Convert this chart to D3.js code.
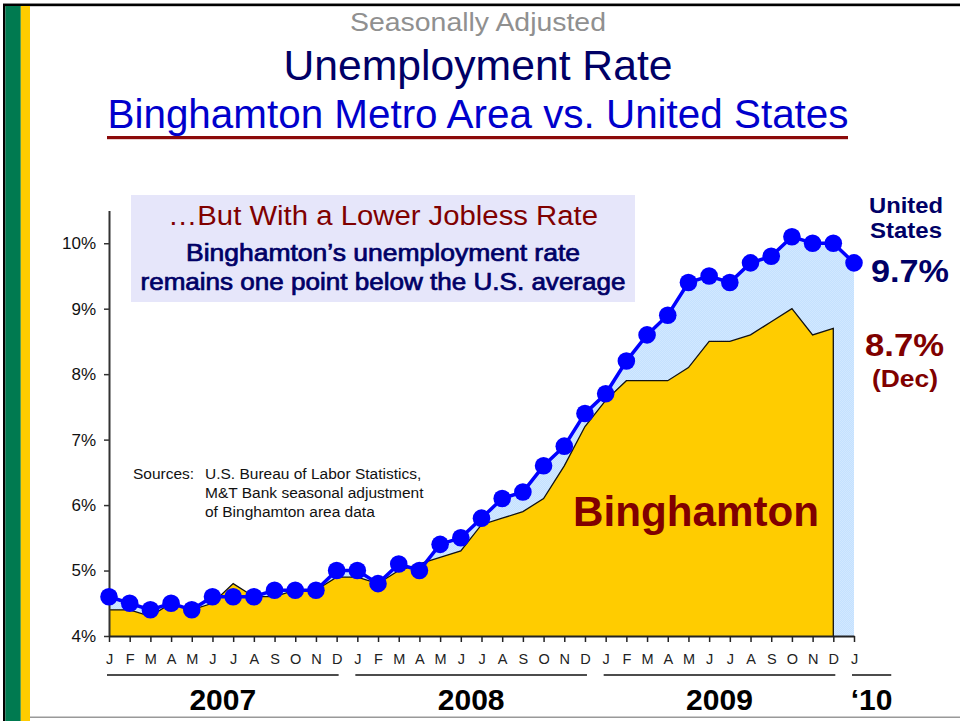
<!DOCTYPE html>
<html>
<head>
<meta charset="utf-8">
<script src="https://cdn.jsdelivr.net/npm/d3@7"></script>
<style>
  body { margin: 0; background: #fff; }
  svg { display: block; font-family: "Liberation Sans", Arial, sans-serif; }
</style>
</head>
<body>
<svg id="chart" width="960" height="721"></svg>
<script>
// monthly rates, Jan 2007 .. Jan 2010
var monthLetters = ['J','F','M','A','M','J','J','A','S','O','N','D'];
var monthLabels = monthLetters.concat(monthLetters, monthLetters, ['J']);

var usRate = [
    4.6, 4.5, 4.4, 4.5, 4.4, 4.6, 4.6, 4.6, 4.7, 4.7, 4.7, 5.0,
    5.0, 4.8, 5.1, 5.0, 5.4, 5.5, 5.8, 6.1, 6.2, 6.6, 6.9, 7.4,
    7.7, 8.2, 8.6, 8.9, 9.4, 9.5, 9.4, 9.7, 9.8, 10.1, 10.0, 10.0,
    9.7
];

// binghamton ends at Dec 2009
var binghamtonRate = [
    4.4, 4.4, 4.3, 4.5, 4.4, 4.5, 4.8, 4.6, 4.6, 4.7, 4.7, 4.9,
    4.9, 4.8, 5.0, 5.1, 5.2, 5.3, 5.7, 5.8, 5.9, 6.1, 6.6, 7.2,
    7.6, 7.9, 7.9, 7.9, 8.1, 8.5, 8.5, 8.6, 8.8, 9.0, 8.6, 8.7
];

var yTicks = [4, 5, 6, 7, 8, 9, 10];
var years = ['2007', '2008', '2009', '\u201810'];
var yearStart = [0, 12, 24, 36];
var yearEnd = [11, 23, 35, 36];

var svg = d3.select('#chart');

// frame: black border, green + yellow bands, grey bottom rule
svg.append('rect').attr('x', 3).attr('y', 3).attr('width', 957).attr('height', 1.2).attr('fill', '#888');
svg.append('rect').attr('x', 3).attr('y', 4).attr('width', 957).attr('height', 2.2).attr('fill', '#000');
svg.append('rect').attr('x', 3).attr('y', 4).attr('width', 2.4).attr('height', 717).attr('fill', '#000');
svg.append('rect').attr('x', 5.4).attr('y', 6).attr('width', 15.4).attr('height', 715).attr('fill', '#007a50');
svg.append('rect').attr('x', 20.8).attr('y', 6).attr('width', 9.2).attr('height', 715).attr('fill', '#ffcc00');
svg.append('rect').attr('x', 30).attr('y', 716.5).attr('width', 930).attr('height', 1.5).attr('fill', '#999');

function addText(txt, x, y, size, color, opts) {
    opts = opts || {};
    var t = svg.append('text')
        .attr('x', x)
        .attr('y', y)
        .attr('font-size', size)
        .attr('fill', color)
        .attr('text-anchor', opts.anchor || 'middle')
        .attr('font-weight', opts.weight || 'normal')
        .text(txt);
    if (opts.len) {
        t.attr('textLength', opts.len).attr('lengthAdjust', 'spacingAndGlyphs');
    }
    if (opts.stroke) {
        t.attr('stroke', color).attr('stroke-width', opts.stroke);
    }
    return t;
}

// titles
addText('Seasonally Adjusted', 478, 31, 25, '#909090', {len: 256});
addText('Unemployment Rate', 478, 80, 42, '#000066', {len: 389});
addText('Binghamton Metro Area vs. United States', 478, 128, 40, '#0000cc', {len: 741});
svg.append('rect').attr('x', 107).attr('y', 136).attr('width', 741).attr('height', 3.2).attr('fill', '#8b0a0a');

// scales
var x = d3.scalePoint()
    .domain(d3.range(monthLabels.length))
    .range([109, 854]);

var y = d3.scaleLinear()
    .domain([4, 10.5])
    .range([636, 210.5]);

var step = x(1) - x(0);

// dithered light blue fill
var defs = svg.append('defs');
var pat = defs.append('pattern')
    .attr('id', 'dither')
    .attr('width', 2).attr('height', 2)
    .attr('patternUnits', 'userSpaceOnUse');
pat.append('rect').attr('width', 2).attr('height', 2).attr('fill', '#c4e1ff');
pat.append('rect').attr('width', 1).attr('height', 1).attr('fill', '#d2e8ff');
pat.append('rect').attr('x', 1).attr('y', 1).attr('width', 1).attr('height', 1).attr('fill', '#d2e8ff');

var usArea = d3.area()
    .x(function(d, i) { return x(i); })
    .y0(y(4))
    .y1(function(d) { return y(d); });

svg.append('path')
    .datum(usRate)
    .attr('d', usArea)
    .attr('fill', 'url(#dither)');

// annotation box
svg.append('rect')
    .attr('x', 131).attr('y', 195)
    .attr('width', 504).attr('height', 107)
    .attr('fill', '#e6e6fa');
addText('\u2026But With a Lower Jobless Rate', 383, 225, 27, '#800000', {len: 430});
addText('Binghamton\u2019s unemployment rate', 383, 261, 23, '#000066', {len: 394, stroke: 0.7});
addText('remains one point below the U.S. average', 383, 290, 23, '#000066', {len: 485, stroke: 0.7});

// binghamton area
var bArea = d3.area()
    .x(function(d, i) { return x(i); })
    .y0(y(4))
    .y1(function(d) { return y(d); });

svg.append('path')
    .datum(binghamtonRate)
    .attr('d', bArea)
    .attr('fill', '#ffcc00');

var last = binghamtonRate.length - 1;
var bLine = d3.line()
    .x(function(d, i) { return x(i); })
    .y(function(d) { return y(d); });

svg.append('path')
    .datum(binghamtonRate)
    .attr('d', bLine(binghamtonRate) + 'L' + x(last) + ',' + y(4))
    .attr('fill', 'none')
    .attr('stroke', '#111')
    .attr('stroke-width', 1.3);

// sources note
var src = svg.append('text').attr('font-size', 15.5).attr('fill', '#111');
src.append('tspan').attr('x', 133).attr('y', 479).text('Sources:');
src.append('tspan').attr('x', 205).attr('y', 479).text('U.S. Bureau of Labor Statistics,');
src.append('tspan').attr('x', 205).attr('y', 498).text('M&T Bank seasonal adjustment');
src.append('tspan').attr('x', 205).attr('y', 517).text('of Binghamton area data');

addText('Binghamton', 696, 526, 42, '#800000', {weight: 'bold', len: 246});

// axes
var yAxis = d3.axisLeft(y)
    .tickValues(yTicks)
    .tickSize(5)
    .tickSizeOuter(0)
    .tickPadding(8)
    .tickFormat(function(d) { return d + '%'; });

var gy = svg.append('g')
    .attr('transform', 'translate(' + x(0) + ',0)')
    .call(yAxis);
gy.select('.domain').attr('stroke', '#333').attr('stroke-width', 2);
gy.selectAll('.tick line').attr('stroke', '#333').attr('stroke-width', 1.5);
gy.selectAll('.tick text')
    .attr('font-size', 17)
    .attr('font-family', '"Liberation Sans", Arial, sans-serif')
    .attr('fill', '#111');

var xAxis = d3.axisBottom(x)
    .tickSize(6)
    .tickSizeOuter(0)
    .tickPadding(12)
    .tickFormat(function(i) { return monthLabels[i]; });

var gx = svg.append('g')
    .attr('transform', 'translate(0,' + y(4) + ')')
    .call(xAxis);
gx.select('.domain').attr('stroke', '#222').attr('stroke-width', 2.2);
gx.selectAll('.tick line').attr('stroke', '#222').attr('stroke-width', 1.5);
gx.selectAll('.tick text')
    .attr('font-size', 14.5)
    .attr('font-family', '"Liberation Sans", Arial, sans-serif')
    .attr('fill', '#222');

// year brackets
years.forEach(function(yr, k) {
    var x0 = x(yearStart[k]) - 2;
    var x1 = yearEnd[k] == yearStart[k] ? x(yearEnd[k]) + step * 1.8 : x(yearEnd[k]) + 2;
    svg.append('line')
        .attr('x1', x0).attr('x2', x1)
        .attr('y1', 675).attr('y2', 675)
        .attr('stroke', '#111').attr('stroke-width', 1.5);
    addText(yr, (x0 + x1) / 2, 710, 30, '#000', {weight: 'bold'});
});

// US line and markers
var usLine = d3.line()
    .x(function(d, i) { return x(i); })
    .y(function(d) { return y(d); });

svg.append('path')
    .datum(usRate)
    .attr('d', usLine)
    .attr('fill', 'none')
    .attr('stroke', '#0000ff')
    .attr('stroke-width', 3.5);

svg.selectAll('.us-dot')
    .data(usRate)
    .enter()
    .append('circle')
    .attr('class', 'us-dot')
    .attr('cx', function(d, i) { return x(i); })
    .attr('cy', function(d) { return y(d); })
    .attr('r', 8.8)
    .attr('fill', '#0000ff');

// end labels
addText('United', 906, 213, 22, '#000066', {weight: 'bold', len: 74});
addText('States', 906, 238, 22, '#000066', {weight: 'bold', len: 72});
addText(usRate[usRate.length - 1].toFixed(1) + '%', 871, 282, 32, '#000066', {weight: 'bold', anchor: 'start', len: 78});
addText(binghamtonRate[last].toFixed(1) + '%', 865, 356, 32, '#800000', {weight: 'bold', anchor: 'start', len: 79});
addText('(Dec)', 905, 387, 24, '#800000', {weight: 'bold', len: 66});
</script>
</body>
</html>
